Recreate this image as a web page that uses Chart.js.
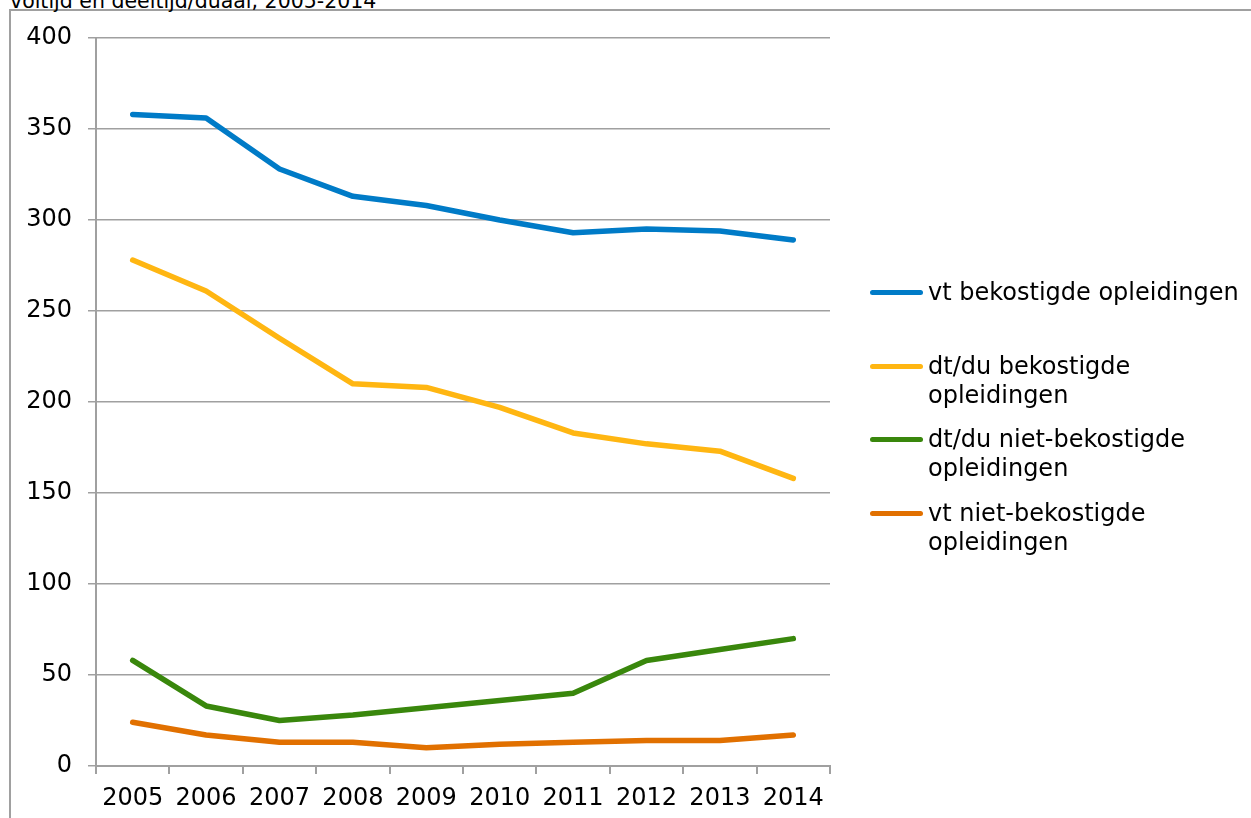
<!DOCTYPE html>
<html>
<head>
<meta charset="utf-8">
<script src="https://cdn.jsdelivr.net/npm/chart.js@4/dist/chart.umd.min.js"></script>
<style>
  html, body { margin: 0; padding: 0; background: #fff; overflow: hidden; }
  #wrap { position: relative; width: 1251px; height: 818px; font-family: "DejaVu Sans", Verdana, sans-serif; }
  #frame { position: absolute; left: 9px; top: 9px; right: 0; bottom: -10px; border-left: 2px solid #a0a0a0; border-top: 2px solid #a0a0a0; }
  #title { position: absolute; left: 10px; top: -11px; font-size: 20.5px; line-height: 24px; color: #000; white-space: nowrap; }
  canvas { position: absolute; left: 0; top: 0; }
  .lg { position: absolute; left: 928px; font-size: 24px; line-height: 29px; color: #000; white-space: nowrap; }
  .sw { position: absolute; left: 870px; width: 53px; height: 5px; border-radius: 3px; }
</style>
</head>
<body>
<div id="wrap">
  <div id="frame"></div>
  <div id="title">voltijd en deeltijd/duaal, 2005-2014</div>
  <canvas id="c" width="1251" height="818"></canvas>
  <div id="legend"></div>
</div>
<script>
const years = ["2005","2006","2007","2008","2009","2010","2011","2012","2013","2014"];
const vtBekostigd = [358, 356, 328, 313, 308, 300, 293, 295, 294, 289];
const dtBekostigd = [278, 261, 235, 210, 208, 197, 183, 177, 173, 158];
const dtNietBekostigd = [58, 33, 25, 28, 32, 36, 40, 58, 64, 70];
const vtNietBekostigd = [24, 17, 13, 13, 10, 12, 13, 14, 14, 17];
const seriesNames = ["vt bekostigde opleidingen", "dt/du bekostigde opleidingen", "dt/du niet-bekostigde opleidingen", "vt niet-bekostigde opleidingen"];
const legendLines = [["vt bekostigde opleidingen"], ["dt/du bekostigde", "opleidingen"], ["dt/du niet-bekostigde", "opleidingen"], ["vt niet-bekostigde", "opleidingen"]];
const colors = ["#007BC7", "#FFB612", "#39870C", "#E17000"];
const yTicks = [0, 50, 100, 150, 200, 250, 300, 350, 400];

const values = [vtBekostigd, dtBekostigd, dtNietBekostigd, vtNietBekostigd];
const datasets = values.map((v, i) => ({
  label: seriesNames[i],
  data: v,
  borderColor: colors[i],
  backgroundColor: colors[i],
  borderWidth: 5.5,
  pointRadius: 0,
  tension: 0,
  borderCapStyle: 'round',
  borderJoinStyle: 'round',
  fill: false
}));

Chart.defaults.font.family = '"DejaVu Sans", Verdana, sans-serif';
Chart.defaults.font.size = 24;
Chart.defaults.color = '#000';

new Chart(document.getElementById('c'), {
  type: 'line',
  data: { labels: years, datasets: datasets },
  options: {
    responsive: false,
    animation: false,
    devicePixelRatio: 1,
    layout: { padding: { top: 38, right: 421, left: 0, bottom: 0 } },
    plugins: { legend: { display: false }, tooltip: { enabled: false }, title: { display: false } },
    scales: {
      x: {
        offset: true,
        grid: { offset: true, drawOnChartArea: false, drawTicks: true, tickLength: 8, color: '#a0a0a0', lineWidth: 2 },
        border: { display: true, color: '#a0a0a0', width: 2 },
        ticks: { padding: 10, maxRotation: 0, autoSkip: false, font: { size: 24 } },
        afterFit: s => { s.height = 52; }
      },
      y: {
        min: 0, max: 400,
        afterBuildTicks: s => { s.ticks = yTicks.map(v => ({ value: v })); },
        grid: { color: '#a0a0a0', lineWidth: 1.5, tickLength: 8 },
        border: { display: true, color: '#a0a0a0', width: 2 },
        ticks: { padding: 16, font: { size: 24 } },
        afterFit: s => { s.width = 96; }
      }
    }
  }
});

const legendTops = [278, 352, 425, 499];
const lg = document.getElementById('legend');
legendLines.forEach((lines, i) => {
  const sw = document.createElement('div');
  sw.className = 'sw';
  sw.style.top = (legendTops[i] + 12) + 'px';
  sw.style.background = colors[i];
  lg.appendChild(sw);
  const t = document.createElement('div');
  t.className = 'lg';
  t.style.top = legendTops[i] + 'px';
  t.innerHTML = lines.join('<br>');
  lg.appendChild(t);
});
</script>
</body>
</html>
